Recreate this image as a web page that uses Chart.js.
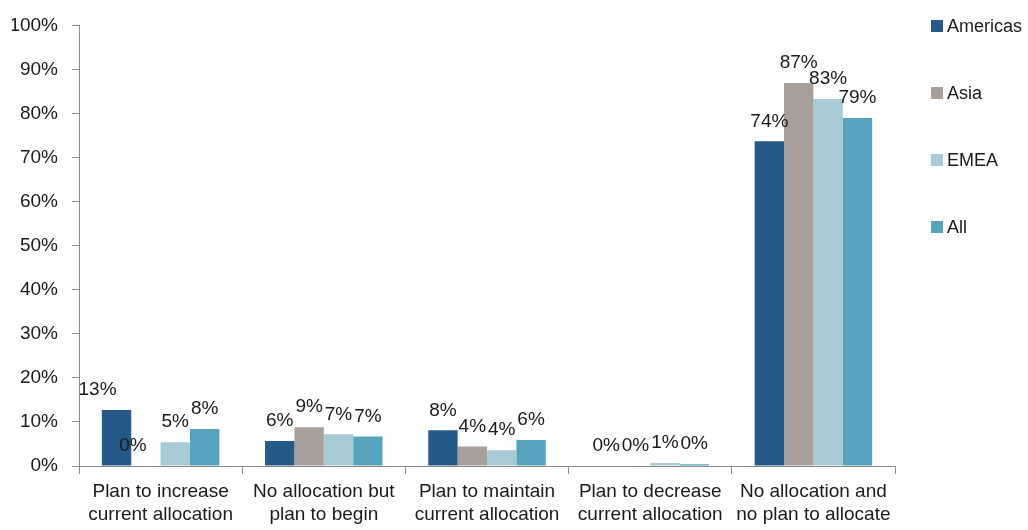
<!DOCTYPE html>
<html>
<head>
<meta charset="utf-8">
<script src="https://cdn.jsdelivr.net/npm/chart.js@4/dist/chart.umd.min.js"></script>
<style>
  body{ margin:0; background:#fff; font-family:"Liberation Sans", Arial, sans-serif; }
  #wrap{ position:relative; width:1028px; height:530px; }
  #legend{ position:absolute; left:931px; top:0; }
  .item{ position:absolute; left:0; white-space:nowrap; font-size:18px; color:#1a1a1a; display:flex; align-items:center; height:22px; }
  .sw{ width:12px; height:12px; margin-right:4px; }
</style>
</head>
<body>
<div id="wrap">
  <canvas id="chart" width="1028" height="530"></canvas>
  <div id="legend"></div>
</div>
<script>
// data
const categories = [
  ["Plan to increase", "current allocation"],
  ["No allocation but", "plan to begin"],
  ["Plan to maintain", "current allocation"],
  ["Plan to decrease", "current allocation"],
  ["No allocation and", "no plan to allocate"]
];
const seriesNames = ["Americas", "Asia", "EMEA", "All"];
const americas = [12.7, 5.7, 8.1, 0, 73.7];
const asia     = [0, 8.8, 4.4, 0, 86.9];
const emea     = [5.4, 7.2, 3.6, 0.7, 83.3];
const all      = [8.4, 6.7, 5.9, 0.4, 79.0];
const yTicks   = [0, 10, 20, 30, 40, 50, 60, 70, 80, 90, 100];
const colors   = ["#255a88", "#a9a09b", "#a6cbd5", "#55a3bc"];

const TEXT = "#1a1a1a";
const AXIS = "#8c8c8c";
const FONT = { family: '"Liberation Sans", Arial, sans-serif', size: 19 };

// value labels above bars (a couple nudged left like the original)
const valueLabels = {
  id: "valueLabels",
  afterDatasetsDraw(chart, args, opts){
    const ctx = chart.ctx;
    ctx.save();
    ctx.font = "19px " + FONT.family;
    ctx.fillStyle = TEXT;
    ctx.textAlign = "center";
    ctx.textBaseline = "middle";
    chart.data.datasets.forEach((ds, di) => {
      chart.getDatasetMeta(di).data.forEach((bar, i) => {
        const shift = (opts.shifts || []).find(s => s.ds === di && s.i === i);
        const dx = shift ? shift.dx : 0;
        ctx.fillText(Math.round(ds.data[i]) + "%", bar.x + dx, bar.y - 20);
      });
    });
    ctx.restore();
  }
};

const datasets = [americas, asia, emea, all].map((vals, i) => ({
  label: seriesNames[i],
  data: vals,
  backgroundColor: colors[i],
  categoryPercentage: 0.72,
  barPercentage: 1.0
}));

new Chart(document.getElementById("chart"), {
  type: "bar",
  data: { labels: categories, datasets },
  plugins: [valueLabels],
  options: {
    responsive: false,
    animation: false,
    layout: { padding: { left: 12, right: 133, top: 0, bottom: 4 } },
    plugins: {
      legend: { display: false },
      tooltip: { enabled: false },
      valueLabels: { shifts: [ { ds: 0, i: 0, dx: -19 }, { ds: 1, i: 0, dx: -13 } ] }
    },
    scales: {
      y: {
        min: 0, max: 100,
        afterBuildTicks: axis => { axis.ticks = yTicks.map(v => ({ value: v })); },
        afterFit: s => { s.width = 67; },
        ticks: { callback: v => v + "%", color: TEXT, font: FONT, padding: 14 },
        grid: { drawOnChartArea: false, tickLength: 7, color: AXIS },
        border: { color: AXIS }
      },
      x: {
        afterFit: s => { s.height = 60; },
        ticks: { color: TEXT, font: { ...FONT, lineHeight: 1.21 }, padding: 6, maxRotation: 0, autoSkip: false },
        grid: { offset: true, drawOnChartArea: false, tickLength: 8, color: AXIS },
        border: { color: AXIS }
      }
    }
  }
});

// legend on the right
const legend = document.getElementById("legend");
seriesNames.forEach((name, i) => {
  const item = document.createElement("div");
  item.className = "item";
  item.style.top = (26 + i * 67 - 11) + "px";
  item.innerHTML = `<span class="sw" style="background:${colors[i]}"></span>${name}`;
  legend.appendChild(item);
});
</script>
</body>
</html>
